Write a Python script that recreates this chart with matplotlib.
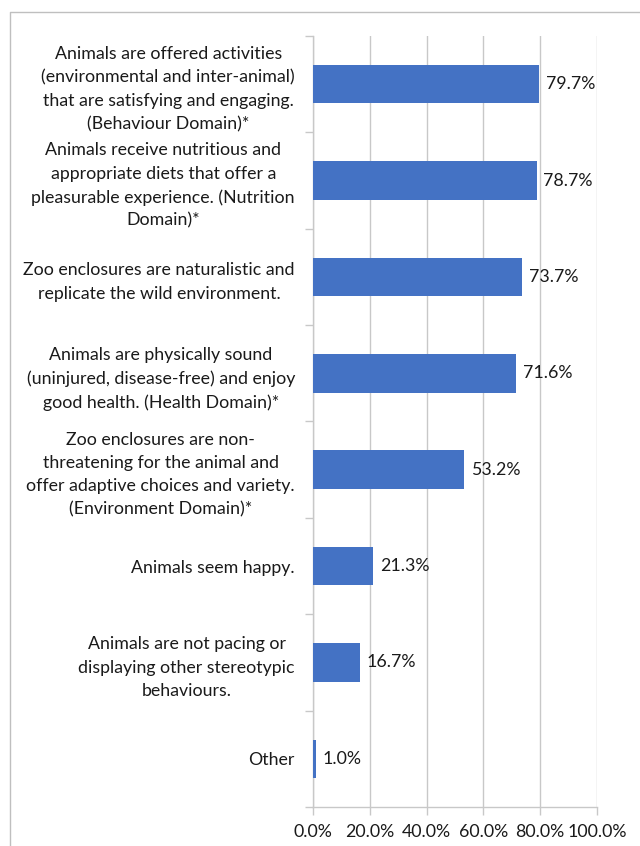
import matplotlib
matplotlib.use("Agg")
import matplotlib.pyplot as plt
from matplotlib.lines import Line2D
from matplotlib.ticker import FixedLocator, FuncFormatter

categories = [
    "Animals are offered activities\n(environmental and inter-animal)\nthat are satisfying and engaging.\n(Behaviour Domain)*",
    "Animals receive nutritious and\nappropriate diets that offer a\npleasurable experience. (Nutrition\nDomain)*",
    "Zoo enclosures are naturalistic and\nreplicate the wild environment.",
    "Animals are physically sound\n(uninjured, disease-free) and enjoy\ngood health. (Health Domain)*",
    "Zoo enclosures are non-\nthreatening for the animal and\noffer adaptive choices and variety.\n(Environment Domain)*",
    "Animals seem happy.",
    "Animals are not pacing or\ndisplaying other stereotypic\nbehaviours.",
    "Other",
]
values = [79.7, 78.7, 73.7, 71.6, 53.2, 21.3, 16.7, 1.0]
xticks = [0, 20, 40, 60, 80, 100]

plt.rcParams['font.family'] = ['Lato', 'DejaVu Sans']
fs = 12.8
fig = plt.figure(figsize=(6.4, 8.46), dpi=100)
W, H = 640, 846
ax = fig.add_axes([313/W, 1-807/H, (597-313)/W, (807-36)/H])

n = len(categories)
ypos = list(range(n))
ax.barh(ypos, values, height=0.4, color="#4472C4", zorder=3)
ax.set_ylim(n-0.5, -0.5)
ax.set_xlim(0, 100)

for y, v in zip(ypos, values):
    ax.text(v + 2.3, y, f"{v:.1f}%", va="center", ha="left", fontsize=fs, color="#1a1a1a")

gc = "#c8c8c8"
ax.set_xticks(xticks)
ax.xaxis.set_major_formatter(FuncFormatter(lambda x, p: f"{x:.1f}%"))
ax.grid(axis="x", color=gc, linewidth=1, zorder=0)
ax.set_yticks(ypos)
ax.set_yticklabels(categories, multialignment="center", linespacing=1.55)
ax.yaxis.set_minor_locator(FixedLocator([i - 0.5 for i in range(n + 1)]))
ax.tick_params(axis="y", which="major", length=0, pad=13, labelsize=fs, labelcolor="#1a1a1a")
ax.tick_params(axis="y", which="minor", length=6, color=gc, width=1)
ax.tick_params(axis="x", which="major", length=6, color=gc, width=1, labelsize=fs, labelcolor="#1a1a1a", pad=6)
for s in ["top", "right"]:
    ax.spines[s].set_visible(False)
for s in ["left", "bottom"]:
    ax.spines[s].set_color(gc)
    ax.spines[s].set_linewidth(1)

fig.add_artist(Line2D([9.5/W, 9.5/W, 1], [0, 1-12.5/H, 1-12.5/H], transform=fig.transFigure, color="#bfbfbf", linewidth=1))

fig.savefig("out.png", dpi=100)
